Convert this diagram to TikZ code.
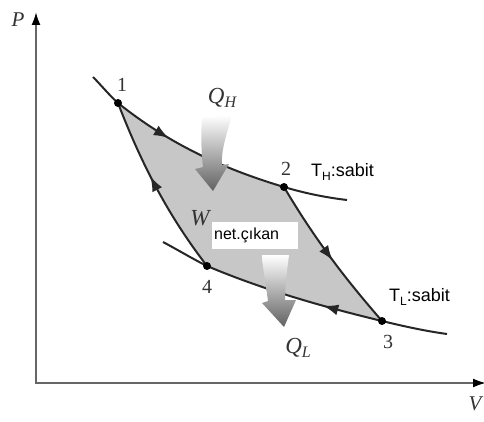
\documentclass[tikz,border=0pt]{standalone}
\usepackage{fontspec}
\setmainfont{Liberation Serif}
\newfontfamily\arialf{Liberation Sans}
\usetikzlibrary{arrows.meta,decorations.markings}
\begin{document}
\begin{tikzpicture}[x=1pt,y=1pt,
  curve/.style={draw=black!85, line width=2pt},
  axisline/.style={draw=black!60, line width=2pt, {Latex[length=13pt,width=9pt,black]}-{Latex[length=13pt,width=9pt,black]}},
  dot/.style={circle, fill=black, inner sep=0pt, minimum size=8pt},
  numlbl/.style={font=\fontsize{20}{24}\selectfont, inner sep=0pt, text=black!80},
  qarrow/.style={top color=white, bottom color=black!62, draw=none},
  midarrow/.style={postaction={decorate}, decoration={markings, mark=at position #1 with {\arrow{Latex[length=15pt,width=11pt]}}}},
  sans/.style={font=\arialf\fontsize{18}{20}\selectfont, inner sep=0pt, anchor=west}
]
\useasboundingbox (0,0) rectangle (484,421);
\coordinate (p1) at (118,318);
\coordinate (p2) at (284,234);
\coordinate (p3) at (382,100);
\coordinate (p4) at (207,155);
\coordinate (o) at (36,38);
\coordinate (ptop) at (36,409);
\coordinate (vend) at (486,38);
\coordinate (uh0) at (93,344);
\coordinate (uh1) at (347,221);
\coordinate (lh0) at (163,179);
\coordinate (lh1) at (447,87);

\fill[black!22] (p1) .. controls (173,274) and (229,250.5) .. (p2) .. controls (317,178) and (349,138) .. (p3) .. controls (324,114) and (265,130.6) .. (p4) .. controls (175,196.6) and (146,245) .. (p1) -- cycle;

\draw[axisline] (ptop) -- (o) -- (vend);

\draw[curve] (uh0) .. controls (101,336) and (110,325) .. (p1);
\draw[curve, midarrow=0.33] (p1) .. controls (173,274) and (229,250.5) .. (p2);
\draw[curve] (p2) .. controls (305,227.7) and (326,223.5) .. (uh1);
\draw[curve, midarrow=0.53] (p2) .. controls (317,178) and (349,138) .. (p3);
\draw[curve] (lh0) .. controls (178,171) and (193,162) .. (p4);
\draw[curve, midarrow=0.33] (p3) .. controls (324,114) and (265,130.6) .. (p4);
\draw[curve] (p3) .. controls (404,94.7) and (425,90) .. (lh1);
\draw[curve, midarrow=0.57] (p4) .. controls (175,196.6) and (146,245) .. (p1);

\node[dot] (d1) at (p1) {};
\node[dot] (d2) at (p2) {};
\node[dot] (d3) at (p3) {};
\node[dot] (d4) at (p4) {};

\node[numlbl] (l1) at (122,336) {1};
\node[numlbl] (l2) at (286,252) {2};
\node[numlbl] (l3) at (388,79) {3};
\node[numlbl] (l4) at (207,134) {4};

\shade[qarrow] (202,303) -- (232,306) .. controls (226,285) and (221,270) .. (222,256) -- (229,257) -- (213,230) -- (195,252) -- (203,254) .. controls (201,270) and (201,290) .. (202,303) -- cycle;
\shade[qarrow] (262,166) -- (289,166) .. controls (287,150) and (285,135) .. (285,121) -- (296,121) -- (284,94) -- (262,118) -- (268,120) .. controls (266,135) and (263,150) .. (262,166) -- cycle;

\node[font=\fontsize{23}{26}\selectfont\itshape, text=black!80] (qh) at (222,323) {Q\raisebox{-0.4ex}{\fontsize{16}{16}\selectfont H}};
\node[font=\fontsize{23}{26}\selectfont\itshape, text=black!80] (ql) at (298,73) {Q\raisebox{-0.4ex}{\fontsize{16}{16}\selectfont L}};

\node[font=\fontsize{23}{26}\selectfont\itshape, text=black!80] (w) at (200,203) {W};
\node[fill=white, anchor=west, inner xsep=2pt, inner ysep=0pt, minimum height=27pt, text width=82pt, font=\arialf\fontsize{16}{18}\selectfont] (wsub) at (212,185.5) {net.çıkan};

\node[sans] (th) at (311,249) {T\raisebox{-0.35ex}{\fontsize{12}{12}\selectfont H}:sabit};
\node[sans] (tl) at (389,124) {T\raisebox{-0.35ex}{\fontsize{12}{12}\selectfont L}:sabit};

\node[font=\fontsize{21}{24}\selectfont\itshape, text=black!80] (plbl) at (18,401) {P};
\node[font=\fontsize{21}{24}\selectfont\itshape, text=black!80] (vlbl) at (475,17) {V};
\end{tikzpicture}
\end{document}
